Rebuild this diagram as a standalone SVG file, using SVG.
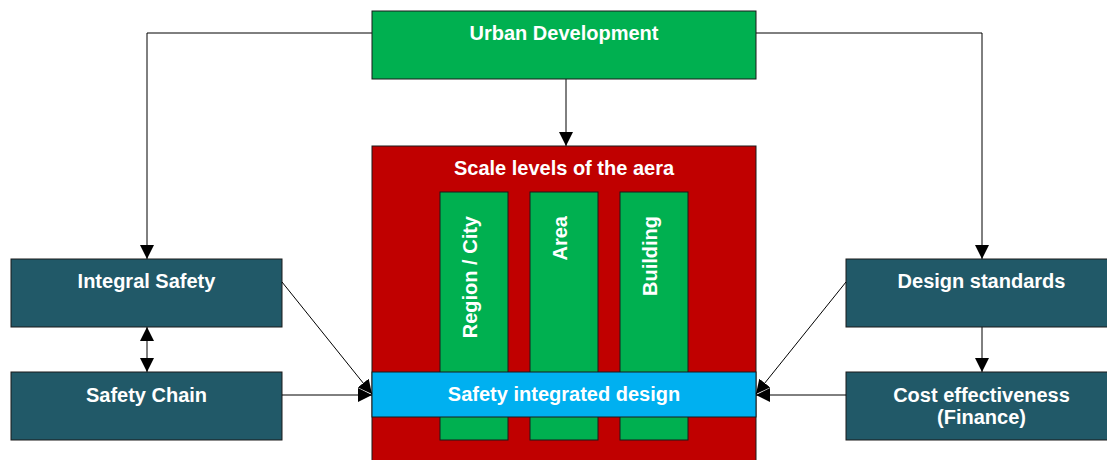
<svg xmlns="http://www.w3.org/2000/svg" width="1107" height="460" viewBox="0 0 1107 460">
<style>
.box{stroke:#1a1a1a;stroke-width:1}
.green{fill:#00B050}
.red{fill:#C00000}
.blue{fill:#00B0F0}
.teal{fill:#215968}
.t{font-family:"Liberation Sans",Arial,sans-serif;font-weight:bold;font-size:20px;fill:#fff;text-anchor:middle}
.c{fill:none;stroke:#000;stroke-width:1}
</style>
<defs>
<marker id="ah" markerUnits="userSpaceOnUse" markerWidth="14" markerHeight="14" refX="14" refY="7" orient="auto-start-reverse" viewBox="0 0 14 14">
<path d="M0,0 L14,7 L0,14 z" fill="#000"/>
</marker>
</defs>
<rect width="1107" height="460" fill="#fff"/>
<g id="connectors">
<path class="c" d="M372,33 H147 V259" marker-end="url(#ah)"/>
<path class="c" d="M756,33 H982 V259" marker-end="url(#ah)"/>
<path class="c" d="M566,79 V146" marker-end="url(#ah)"/>
<path class="c" d="M147,327 V372" marker-start="url(#ah)" marker-end="url(#ah)"/>
<path class="c" d="M982,327 V372" marker-end="url(#ah)"/>
</g>
<g id="urban-development">
<rect class="box green" x="372" y="11" width="384" height="68"/>
<text class="t" x="564" y="40">Urban Development</text>
</g>
<g id="scale-levels">
<rect class="box red" x="372" y="146" width="384" height="330"/>
<text class="t" x="564" y="175">Scale levels of the aera</text>
</g>
<g id="region-city">
<rect class="box green" x="440" y="192" width="68" height="248"/>
<text class="t" style="text-anchor:end" x="477" y="216" transform="rotate(-90 477 216)">Region / City</text>
</g>
<g id="area">
<rect class="box green" x="530" y="192" width="68" height="248"/>
<text class="t" style="text-anchor:end" x="567" y="216" transform="rotate(-90 567 216)">Area</text>
</g>
<g id="building">
<rect class="box green" x="620" y="192" width="68" height="248"/>
<text class="t" style="text-anchor:end" x="657" y="216" transform="rotate(-90 657 216)">Building</text>
</g>
<g id="safety-integrated-design">
<rect class="box blue" x="372" y="372" width="384" height="45"/>
<text class="t" x="564" y="401">Safety integrated design</text>
</g>
<g id="integral-safety">
<rect class="box teal" x="11" y="259" width="271" height="68"/>
<text class="t" x="146.5" y="288">Integral Safety</text>
</g>
<g id="safety-chain">
<rect class="box teal" x="11" y="372" width="271" height="68"/>
<text class="t" x="146.5" y="402">Safety Chain</text>
</g>
<g id="design-standards">
<rect class="box teal" x="846" y="259" width="271" height="68"/>
<text class="t" x="981.5" y="288">Design standards</text>
</g>
<g id="cost-effectiveness">
<rect class="box teal" x="846" y="372" width="271" height="68"/>
<text class="t" x="981.5" y="402">Cost effectiveness</text>
<text class="t" x="981.5" y="424">(Finance)</text>
</g>
<g id="connectors-front">
<path class="c" d="M282,282 L372,394" marker-end="url(#ah)"/>
<path class="c" d="M282,395 H372" marker-end="url(#ah)"/>
<path class="c" d="M846,282 L756,394" marker-end="url(#ah)"/>
<path class="c" d="M846,395 H756" marker-end="url(#ah)"/>
</g>
</svg>
